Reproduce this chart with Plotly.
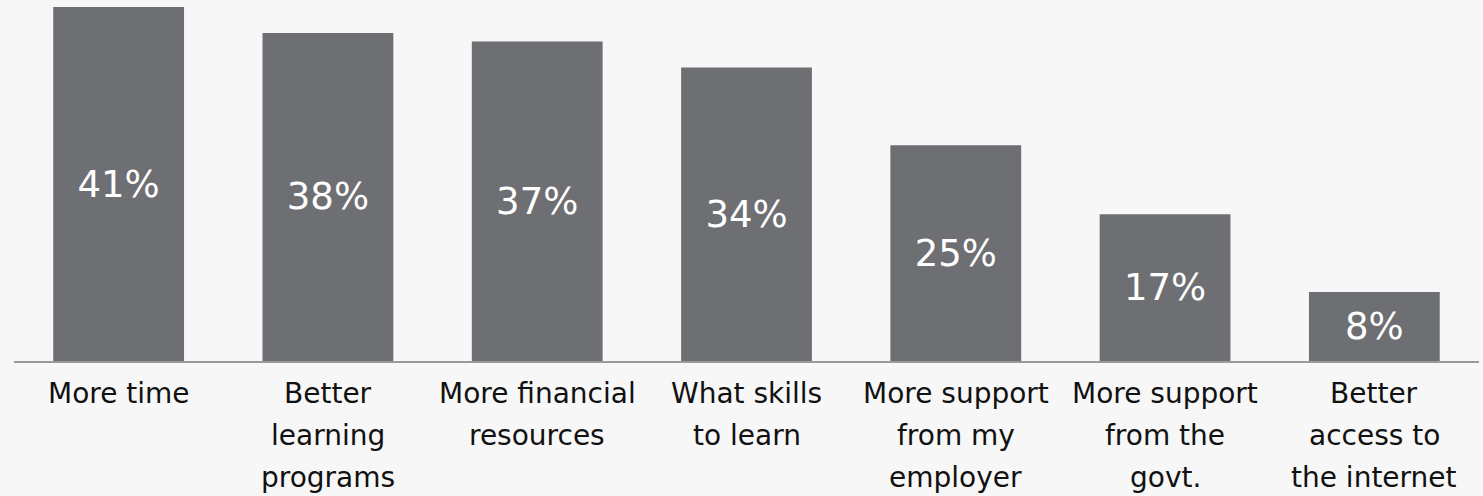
import plotly.graph_objects as go

# Survey results: what would help people learn new skills
categories = [
    "More time",
    "Better learning programs",
    "More financial resources",
    "What skills to learn",
    "More support from my employer",
    "More support from the govt.",
    "Better access to the internet",
]
label_lines = [
    ["More time"],
    ["Better", "learning", "programs"],
    ["More financial", "resources"],
    ["What skills", "to learn"],
    ["More support", "from my", "employer"],
    ["More support", "from the", "govt."],
    ["Better", "access to", "the internet"],
]
values = [41, 38, 37, 34, 25, 17, 8]

FONT = "DejaVu Sans"
BAR_COLOR = "#6e6f73"
BG = "#f7f7f7"

fig = go.Figure()
fig.add_trace(go.Bar(
    x=categories,
    y=values,
    marker=dict(color=BAR_COLOR, line=dict(width=0)),
    width=0.625,
    texttemplate="%{y}%",
    textposition="inside",
    insidetextanchor="middle",
    textangle=0,
    constraintext="none",
    textfont=dict(family=FONT, size=37, color="white"),
    hoverinfo="skip",
))

# Multi-line category labels under each bar, one annotation per line
LINE_GAP = 42
annotations = []
for cat, lines in zip(categories, label_lines):
    for i, line in enumerate(lines):
        annotations.append(dict(
            x=cat, y=0, xref="x", yref="y",
            text=line, showarrow=False,
            xanchor="center", yanchor="middle",
            yshift=-(32 + LINE_GAP * i),
            font=dict(family=FONT, size=28, color="#111111"),
        ))

fig.update_layout(
    width=1483, height=496,
    margin=dict(l=14, r=4, t=7, b=135),
    paper_bgcolor=BG, plot_bgcolor=BG,
    showlegend=False,
    bargap=0.375,
    annotations=annotations,
    xaxis=dict(
        showticklabels=False, ticks="", showgrid=False,
        showline=True, linecolor="#9a9a9a", linewidth=2,
        range=[-0.5, 6.5], fixedrange=True,
    ),
    yaxis=dict(
        visible=False, range=[0, 41], showgrid=False, zeroline=False,
        fixedrange=True,
    ),
)

fig.write_html("out.html", config=dict(displayModeBar=False))
